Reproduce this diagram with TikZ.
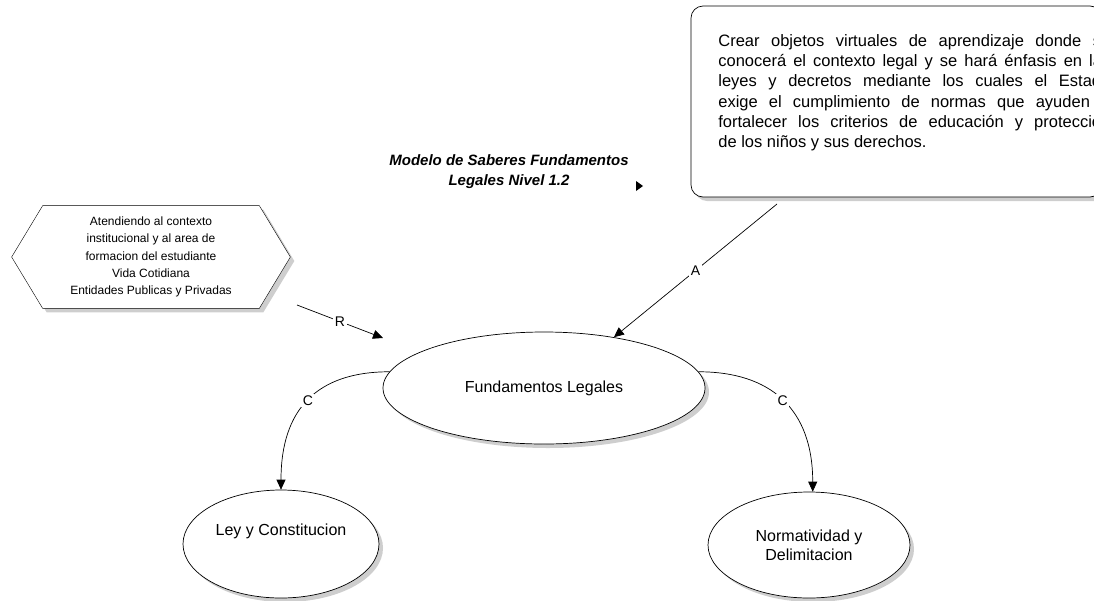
\documentclass[tikz,border=0pt]{standalone}
\usepackage{fontspec}
\setmainfont{Liberation Sans}
\usetikzlibrary{positioning,arrows.meta,shapes.geometric,shadows,backgrounds}

\begin{document}
\begin{tikzpicture}[
  x=1pt, y=-1pt,
  line width=0.7pt,
  shadowed/.style={drop shadow={shadow xshift=4pt, shadow yshift=-4pt, fill=black!35, opacity=0.55}},
  concept/.style={ellipse, draw, fill=white, shadowed, inner sep=0pt, align=center, font=\fontsize{16}{19}\selectfont},
  note/.style={anchor=north west, inner sep=0pt, text width=392pt, align=justify, font=\fontsize{16.5}{20.3}\selectfont},
  cue/.style={inner sep=0pt, minimum width=278pt, minimum height=102pt, align=center, font=\fontsize{12}{17.2}\selectfont},
  heading/.style={align=center, inner sep=0pt, font=\bfseries\itshape\fontsize{15}{20}\selectfont},
  tag/.style={fill=white, inner sep=1.5pt, font=\fontsize{14}{14}\selectfont},
  arrow/.style={-{Triangle[length=10pt,width=9pt]}}
]
\useasboundingbox (0,0) rectangle (1094,600);
\clip (0,0) rectangle (1094,600);

% Goal box (runs past the right edge)
\draw[shadowed, fill=white, rounded corners=12pt] (691,6) rectangle (1102,197);
\node[note] (aim) at (718,34) {\hyphenpenalty=10000
Crear objetos virtuales de aprendizaje donde se\linebreak
conocerá el contexto legal y se hará énfasis en las\linebreak
leyes y decretos mediante los cuales el Estado\linebreak
exige el cumplimiento de normas que ayuden a\linebreak
fortalecer los criterios de educación y protección\linebreak
de los niños y sus derechos.};

% Title and its lone arrow tip
\node[heading] (title) at (509,172) {Modelo de Saberes Fundamentos\\Legales Nivel 1.2};
\coordinate (tip) at (636,186);
\fill (tip) ++(0,-5) -- ++(7,5) -- ++(-7,5) -- cycle;

% Context hexagon
\node[cue] (hex) at (151,257) {Atendiendo al contexto\\institucional y al area de\\formacion del estudiante\\Vida Cotidiana\\Entidades Publicas y Privadas};
\begin{scope}[on background layer]
\draw[shadowed, fill=white] (hex.west) -- ([xshift=31pt]hex.north west) -- ([xshift=-31pt]hex.north east)
  -- (hex.east) -- ([xshift=-31pt]hex.south east) -- ([xshift=31pt]hex.south west) -- cycle;
\end{scope}

% Concepts
\node[concept, minimum width=322pt, minimum height=112pt] (fund) at (544,388) {Fundamentos Legales};
\node[concept, minimum width=196pt, minimum height=108pt] (ley) at (281,544) {Ley y Constitucion\\[10pt]};
\node[concept, minimum width=202pt, minimum height=106pt] (norm) at (809,545) {Normatividad y\\Delimitacion};

% Links
\coordinate (aFrom) at (777,204);
\coordinate (rFrom) at (297,305);
\coordinate (rTo) at (383,338);

\draw[arrow] (aFrom) -- node[tag] {A} (fund.36);
\draw[arrow] (rFrom) -- node[tag] {R} (rTo);

\draw[arrow] (fund.174) .. controls +(-73,0) and +(0,-80) .. node[tag, pos=0.5] {C} (ley.north);
\draw[arrow] (fund.6) .. controls +(72,0) and +(0,-83) .. node[tag, pos=0.5] {C} (norm.86);

\end{tikzpicture}
\end{document}
